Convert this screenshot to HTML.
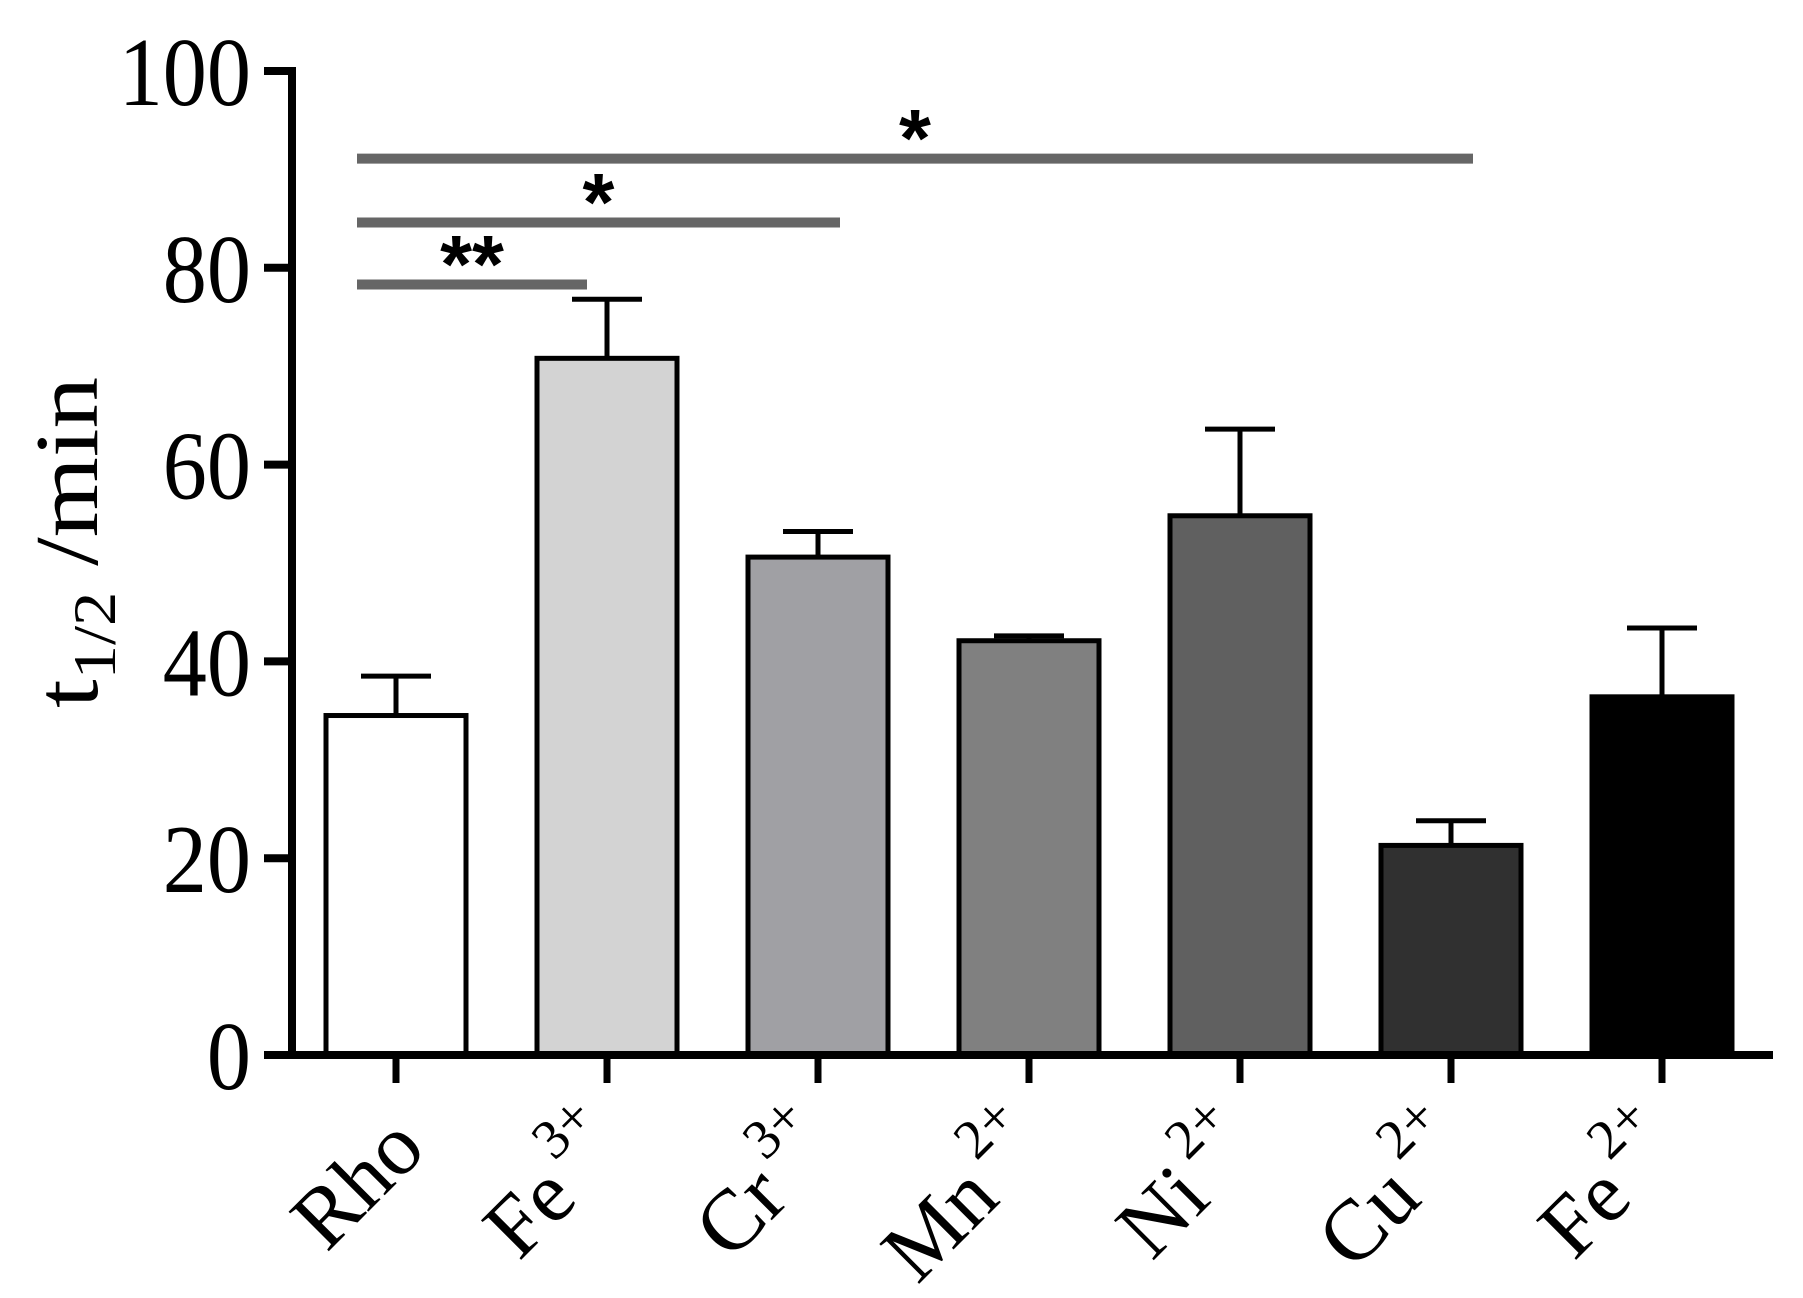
<!DOCTYPE html>
<html><head><meta charset="utf-8"><style>
html,body{margin:0;padding:0;background:#fff;}
svg{display:block;}
text{font-family:"Liberation Serif",serif;fill:#000;}
</style></head><body>
<svg id="chart" width="1803" height="1298" viewBox="0 0 1803 1298">
<g id="bars"></g>
<g id="sig"></g>
<g id="axes"></g>
<text transform="translate(97,708) rotate(-90)" font-size="90" textLength="331" lengthAdjust="spacingAndGlyphs">t<tspan font-size="60" dy="18">1/2</tspan><tspan dy="-18"> /min</tspan></text>
</svg>
<script>
const categories=["Rho","Fe","Cr","Mn","Ni","Cu","Fe"];
const charges=["","3+","3+","2+","2+","2+","2+"];
const means=[34.5,70.8,50.6,42.1,54.8,21.3,36.4];
const errs=[4.0,6.0,2.6,0.5,8.8,2.5,7.0];
const fills=["#ffffff","#d3d3d3","#a0a0a4","#808080","#606060","#303030","#000000"];
const yTicks=[0,20,40,60,80,100];
const sigFrom=[0,0,0];
const sigTo=[1,2,5];
const sigY=[78.3,84.6,91.1];
const sigLabel=["**","*","*"];

const NS="http://www.w3.org/2000/svg";
const y0=1055,yTop=71,yMax=100;
const y=v=>y0-(y0-yTop)*v/yMax;
const x=i=>396+211*i;
const bw=140;
function mk(tag,attrs,parent){const e=document.createElementNS(NS,tag);for(const k in attrs)e.setAttribute(k,attrs[k]);parent.appendChild(e);return e;}
const bars=document.getElementById('bars'),axes=document.getElementById('axes'),sig=document.getElementById('sig');
categories.forEach((c,i)=>{
  const r=mk('rect',{x:x(i)-bw/2,y:y(means[i]),width:bw,height:y0-y(means[i]),fill:fills[i],stroke:'#000','stroke-width':5},bars);
  
  
  const e=mk('path',{d:`M${x(i)} ${y(means[i])}V${y(means[i]+errs[i])}M${x(i)-35} ${y(means[i]+errs[i])}H${x(i)+35}`,stroke:'#000','stroke-width':5,fill:'none'},bars);
  
  
  const t=mk('line',{x1:x(i),x2:x(i),y1:y0,y2:y0+28,stroke:'#000','stroke-width':7},axes);
  
  
  const lx=x(i)+(charges[i]?22:32),ly=1152;
  const lb=mk('text',{transform:`translate(${lx},${ly}) rotate(-45)`,'text-anchor':'end','font-size':86},axes);
  
  
  lb.appendChild(document.createTextNode(c));
  if(charges[i]){const s=mk('tspan',{'font-size':56,dy:-46,dx:10},lb);s.textContent=charges[i];}
});
mk('line',{x1:292,x2:292,y1:yTop-4,y2:y0+4,stroke:'#000','stroke-width':8},axes);
mk('line',{x1:264,x2:1773,y1:y0,y2:y0,stroke:'#000','stroke-width':8},axes);
yTicks.forEach(v=>{
  const t=mk('line',{x1:264,x2:292,y1:y(v),y2:y(v),stroke:'#000','stroke-width':8},axes);
  
  
  const l=mk('text',{x:251,y:y(v)+34,'text-anchor':'end','font-size':98},axes);
  l.setAttribute('transform',`translate(${251*0.1} 0) scale(0.9 1)`);
  
  
  l.textContent=v;
});
sigFrom.forEach((f,k)=>{
  const x1=357,x2=x(sigTo[k])+(sigTo[k]===1?-20:22);
  const l=mk('line',{x1:x1,x2:x2,y1:y(sigY[k]),y2:y(sigY[k]),stroke:'#666','stroke-width':10},sig);
  
  
  const s=mk('text',{x:(x1+x2)/2,y:y(sigY[k])+8,'text-anchor':'middle'},sig);
  s.setAttribute('style','font-family:"Liberation Sans",sans-serif;font-size:82px;font-weight:bold;');
  
  
  s.textContent=sigLabel[k];
});
</script>
</body></html>
